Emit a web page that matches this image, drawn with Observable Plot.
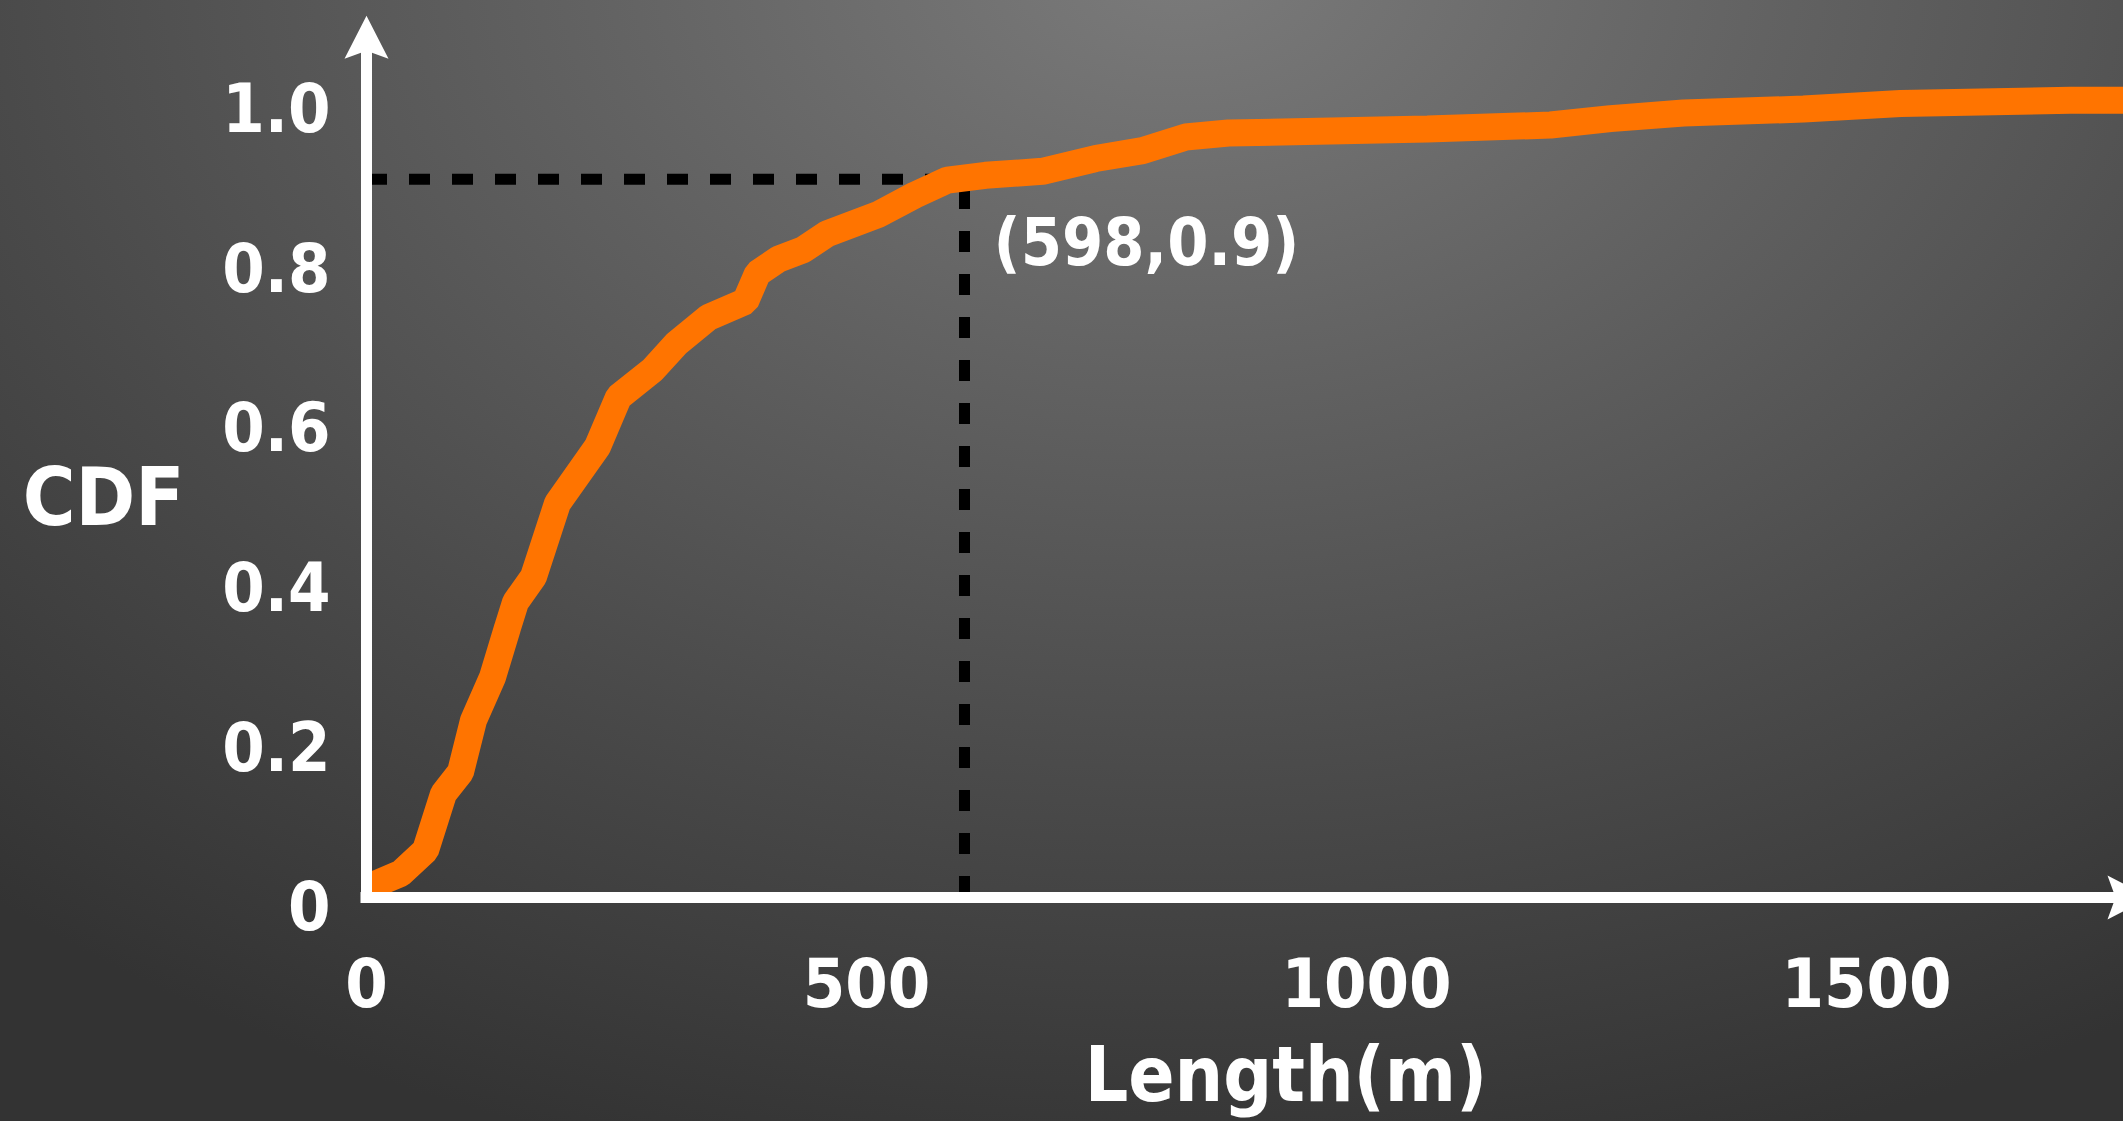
<!DOCTYPE html>
<html>
<head>
<meta charset="utf-8">
<script src="https://cdn.jsdelivr.net/npm/d3@7"></script>
<script src="https://cdn.jsdelivr.net/npm/@observablehq/plot@0.6"></script>
<style>
  html, body { margin: 0; padding: 0; overflow: hidden; background: #3a3a3a; }
  #chart svg { display: block; }
</style>
</head>
<body>
<div id="chart"></div>
<script>
// ---- data ----
const lengths   = [0, 34, 59, 77, 94, 107, 126, 141, 149, 167, 191, 231, 252, 286, 310, 342, 379, 391, 412, 437, 461, 512, 548, 581, 619, 676, 729, 776, 819, 862, 1061, 1184, 1244, 1317, 1437, 1534, 1704, 1757];
const cdfValues = [0.012, 0.030, 0.059, 0.130, 0.157, 0.222, 0.276, 0.338, 0.370, 0.402, 0.494, 0.565, 0.627, 0.661, 0.694, 0.727, 0.747, 0.782, 0.800, 0.812, 0.832, 0.856, 0.880, 0.899, 0.905, 0.910, 0.926, 0.936, 0.953, 0.958, 0.963, 0.968, 0.976, 0.983, 0.988, 0.995, 0.999, 0.999];

const xTicks = [0, 500, 1000, 1500];
const xTickLabels = ["0", "500", "1000", "1500"];
const yTicks = [0, 0.2, 0.4, 0.6, 0.8, 1.0];
const yTickLabels = ["0", "0.2", "0.4", "0.6", "0.8", "1.0"];

const markerLength = 598;
const markerCdf = 0.9;
const annotation = ["(598,0.9)"];
const xTitle = ["Length(m)"];
const yTitle = ["CDF"];

const xDomain = [0, 1757];
const yDomain = [0, 1];
const xAxisEnd = 1784;   // arrow tip (beyond the frame, as in the reference)
const yAxisEnd = 1.105;

// ---- build ----
const data = lengths.map((x, i) => ({length: x, cdf: cdfValues[i]}));

const arrowUp = {
  draw(ctx, size) {
    const r = Math.sqrt(size / Math.PI);
    ctx.moveTo(0, 0);
    ctx.lineTo(r, 1.955 * r);
    ctx.lineTo(0, 1.59 * r);
    ctx.lineTo(-r, 1.955 * r);
    ctx.closePath();
  }
};
const arrowRight = {
  draw(ctx, size) {
    const r = Math.sqrt(size / Math.PI);
    ctx.moveTo(0, 0);
    ctx.lineTo(-1.955 * r, -r);
    ctx.lineTo(-1.59 * r, 0);
    ctx.lineTo(-1.955 * r, r);
    ctx.closePath();
  }
};

const font = "'DejaVu Sans Condensed', 'DejaVu Sans', sans-serif";

const chart = Plot.plot({
  width: 2123,
  height: 1121,
  marginLeft: 366,
  marginRight: 0,
  marginTop: 99,
  marginBottom: 224,
  x: {domain: xDomain},
  y: {domain: yDomain},
  style: {
    background: "radial-gradient(ellipse 1800px 1250px at 1180px -40px, #7b7b7b 0%, #626262 33%, #4a4a4a 66%, #333333 100%)",
    color: "white",
    fontFamily: font,
    fontStretch: "condensed",
    fontWeight: "bold",
    fontSize: "68px",
    overflow: "hidden"
  },
  marks: [
    // dashed guide lines
    Plot.ruleY([markerCdf], {x1: 0, x2: markerLength, stroke: "black", strokeWidth: 11, strokeDasharray: "21 22"}),
    Plot.ruleX([markerLength], {y1: 0, y2: markerCdf, stroke: "black", strokeWidth: 11, strokeDasharray: "21 22"}),
    // CDF curve
    Plot.line(data, {x: "length", y: "cdf", stroke: "#ff7400", strokeWidth: 27, strokeLinejoin: "miter", strokeLinecap: "butt"}),
    // axes with arrows
    Plot.ruleX([0], {y1: 0, y2: yAxisEnd - 0.03, stroke: "white", strokeWidth: 11, strokeLinecap: "square"}),
    Plot.ruleY([0], {x1: 0, x2: xAxisEnd - 20, stroke: "white", strokeWidth: 11, strokeLinecap: "square"}),
    Plot.dot([0], {x: 0, y: yAxisEnd, r: 22, symbol: arrowUp, fill: "white", stroke: null}),
    Plot.dot([0], {x: xAxisEnd, y: 0, r: 22, symbol: arrowRight, fill: "white", stroke: null}),
    // tick labels
    Plot.axisX(xTicks, {tickSize: 0, tickPadding: 61, tickFormat: (d) => xTickLabels[xTicks.indexOf(d)], fontSize: 68, fontWeight: "bold", fill: "white", label: null}),
    Plot.axisY(yTicks, {tickSize: 0, tickPadding: 36, dy: 11, tickFormat: (d) => yTickLabels[yTicks.indexOf(d)], fontSize: 68, fontWeight: "bold", fill: "white", label: null}),
    // annotation
    Plot.text(annotation, {x: markerLength, y: markerCdf, text: d => d, textAnchor: "start", dx: 29, dy: 65, fontSize: 66, fontWeight: "bold", fill: "white"}),
    // titles
    Plot.text(yTitle, {frameAnchor: "left", text: d => d, textAnchor: "middle", dx: -263, dy: 1, fontSize: 80, fontWeight: "bold", fill: "white"}),
    Plot.text(xTitle, {frameAnchor: "bottom", text: d => d, textAnchor: "middle", dx: 41, dy: 203, fontSize: 76, fontWeight: "bold", fill: "white"})
  ]
});

document.getElementById("chart").appendChild(chart);
</script>
</body>
</html>
